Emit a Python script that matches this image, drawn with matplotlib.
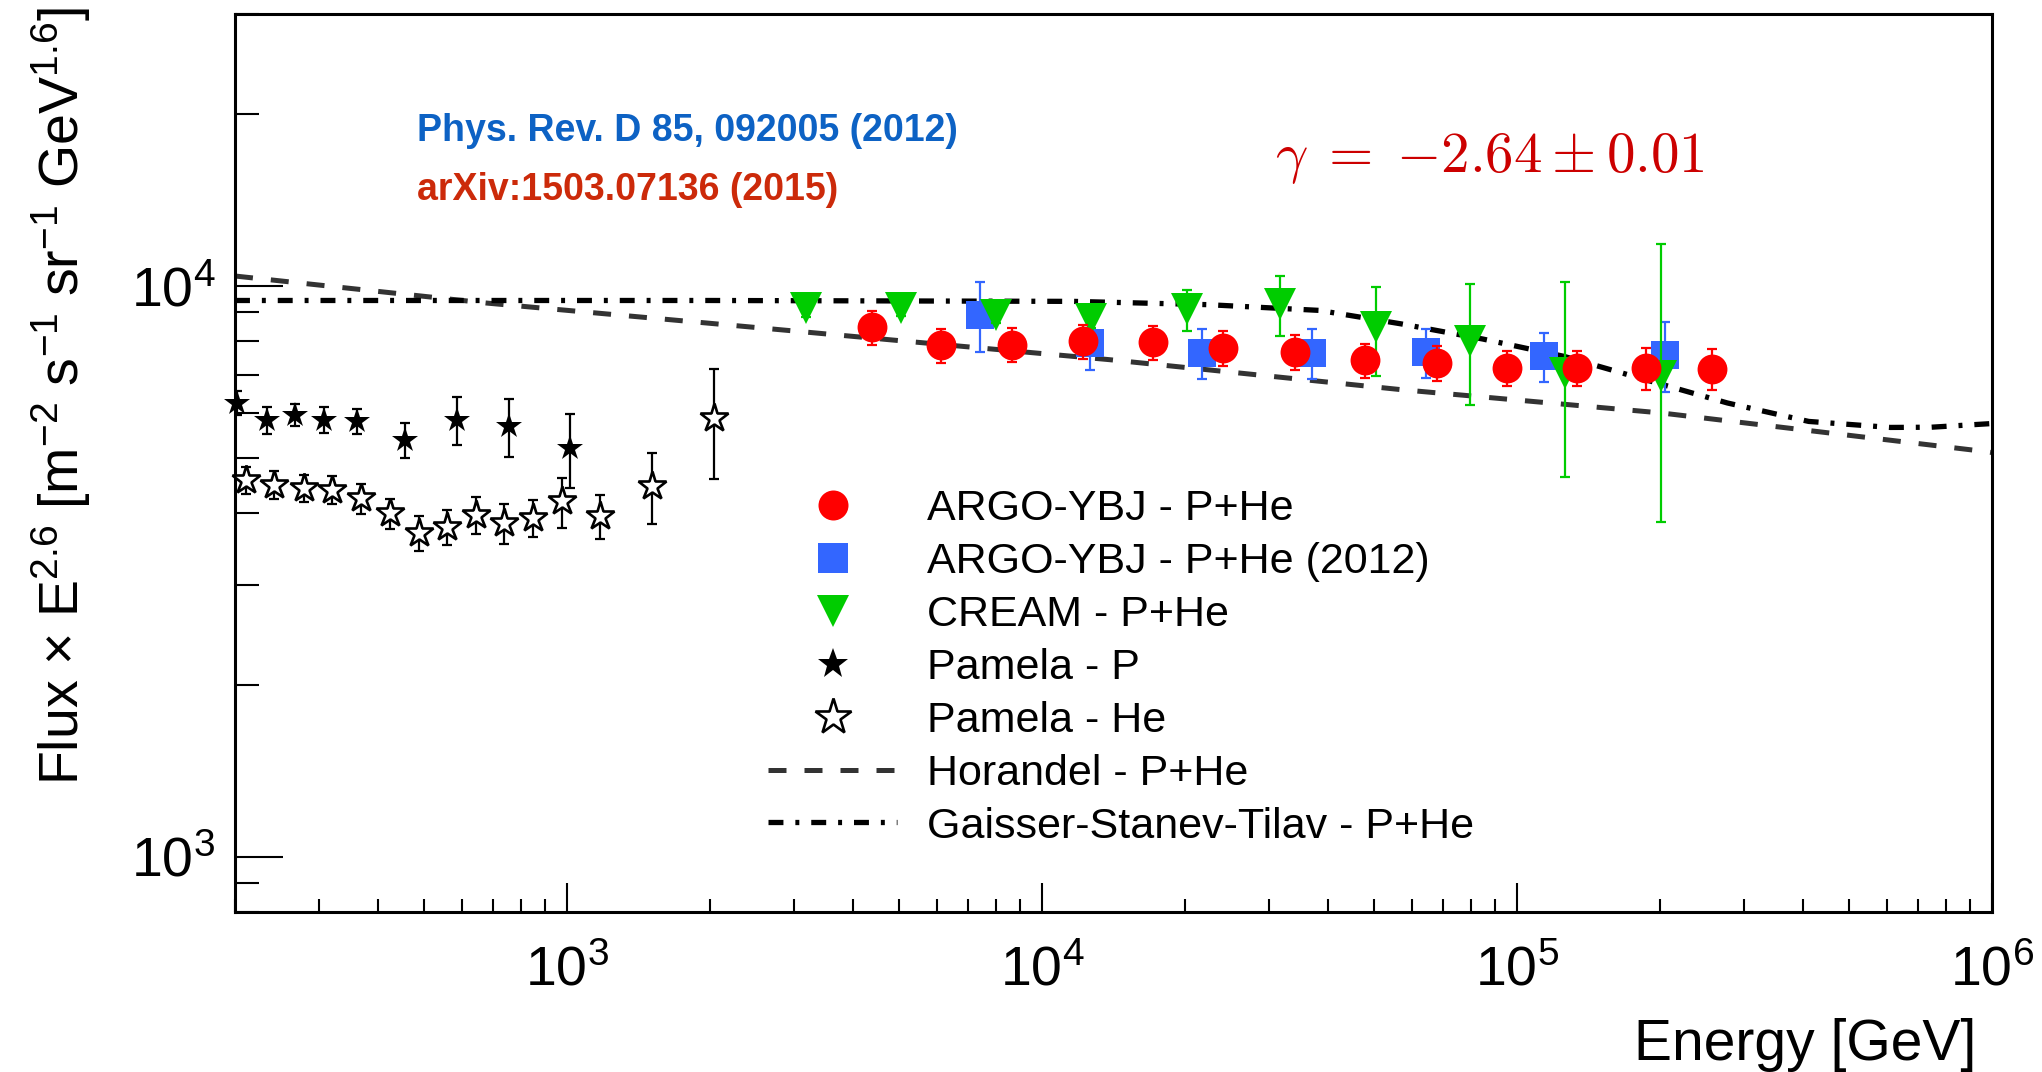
import matplotlib
matplotlib.use('Agg')
import matplotlib.pyplot as plt
from matplotlib import font_manager
from matplotlib.ticker import LogLocator, NullFormatter

plt.rcParams['font.family'] = ['Liberation Sans', 'DejaVu Sans']
plt.rcParams['mathtext.fontset'] = 'custom'
plt.rcParams['mathtext.rm'] = 'Liberation Sans'
plt.rcParams['mathtext.it'] = 'Liberation Sans:italic'
plt.rcParams['mathtext.bf'] = 'Liberation Sans:bold'

# ---------------- data ----------------
# ARGO-YBJ P+He (2015)
argo_E = [4390, 6140, 8630, 12190, 17160, 24080, 34040, 47890, 68000, 95300, 133900, 186700, 257000]
argo_F = [8475, 7875, 7900, 8000, 7970, 7790, 7670, 7410, 7335, 7195, 7190, 7190, 7170]
argo_err = [590, 550, 550, 560, 560, 545, 535, 520, 515, 505, 505, 600, 600]

# ARGO-YBJ P+He (2012)
argo12_E = [7410, 12590, 21760, 37060, 64380, 113900, 205300]
argo12_F = [8910, 7940, 7640, 7645, 7660, 7540, 7590]
argo12_err = [1250, 800, 765, 765, 760, 755, 1065]

# CREAM P+He
cream_E = [3190, 5060, 7990, 12680, 20170, 31740, 50470, 79650, 126500, 201300]
cream_F = [9140, 9160, 8920, 8750, 9125, 9310, 8475, 8025, 7045, 6960]
cream_err_lo = [300, 300, 300, 300, 770, 1115, 1525, 1845, 2415, 3100]
cream_err_hi = [300, 300, 300, 300, 735, 1095, 1495, 2065, 3110, 4900]

# Pamela P
pam_p_E = [202, 234, 268, 308, 362, 455, 587, 754, 1016]
pam_p_F = [6240, 5830, 5950, 5830, 5800, 5380, 5830, 5680, 5205]
pam_p_err = [300, 320, 270, 300, 300, 375, 555, 660, 775]

# Pamela He
pam_he_E = [211, 242, 279, 320, 369, 424, 488, 559, 644, 738, 848, 976, 1172, 1509, 2035]
pam_he_F = [4580, 4490, 4430, 4400, 4250, 4000, 3690, 3790, 3975, 3845, 3925, 4195, 3950, 4470, 5875]
pam_he_err = [250, 245, 245, 245, 255, 240, 260, 265, 290, 305, 290, 420, 350, 640, 1285]

# Models
horandel_E = [200, 675, 2270, 5240, 13870, 57000, 201800, 964000, 1000000]
horandel_F = [10420, 9345, 8527, 8000, 7434, 6587, 5994, 5133, 5110]

gst_E = [200, 2000, 11660, 22340, 38320, 57000, 84720, 125600, 186600, 277300, 411200, 611000, 744500, 964000, 1000000]
gst_F = [9440, 9440, 9406, 9282, 9070, 8590, 8080, 7534, 6855, 6242, 5794, 5655, 5660, 5734, 5745]

labels = ['ARGO-YBJ - P+He', 'ARGO-YBJ - P+He (2012)', 'CREAM - P+He', 'Pamela - P',
          'Pamela - He', 'Horandel - P+He', 'Gaisser-Stanev-Tilav - P+He']

RED = '#ff0000'
BLUE = '#3366ff'
GREEN = '#00cc00'

# ---------------- figure ----------------
W, H = 2042, 1072
fig = plt.figure(figsize=(W / 100, H / 100), dpi=100)
ax = fig.add_axes([235 / W, 1 - 912 / H, (1992 - 235) / W, (912 - 14) / H])
ax.set_xscale('log')
ax.set_yscale('log')
ax.set_xlim(200, 1e6)
ax.set_ylim(800, 3e4)

# model curves
h_hor, = ax.plot(horandel_E, horandel_F, color='#333333', lw=3.6,
                 ls=(0, (3.6, 3.6)), label=labels[5], zorder=2)
h_gst, = ax.plot(gst_E, gst_F, color='black', lw=3.8,
                 ls=(0, (2.83, 2.26, 0.75, 2.26)), label=labels[6], zorder=2)

ebkw = dict(fmt='none', elinewidth=1.6, capsize=3.6, capthick=1.6)

# Pamela
ax.errorbar(pam_p_E, pam_p_F, yerr=pam_p_err, ecolor='black', zorder=3, **ebkw)
h_pp, = ax.plot(pam_p_E, pam_p_F, ls='none', marker='*', ms=19, color='black',
                mew=0, label=labels[3], zorder=4, clip_on=False)
ax.errorbar(pam_he_E, pam_he_F, yerr=pam_he_err, ecolor='black', zorder=3, **ebkw)
h_phe, = ax.plot(pam_he_E, pam_he_F, ls='none', marker='*', ms=21, mfc='white',
                 mec='black', mew=1.9, label=labels[4], zorder=4, clip_on=False)

# ARGO 2012
ax.errorbar(argo12_E, argo12_F, yerr=argo12_err, ecolor=BLUE, zorder=5, **ebkw)
h_a12, = ax.plot(argo12_E, argo12_F, ls='none', marker='s', ms=20, color=BLUE,
                 mew=0, label=labels[1], zorder=6)

# CREAM
ax.errorbar(cream_E, cream_F, yerr=[cream_err_lo, cream_err_hi], ecolor=GREEN,
            zorder=7, **ebkw)
h_cr, = ax.plot(cream_E, cream_F, ls='none', marker='v', ms=22.5, color=GREEN,
                mew=0, label=labels[2], zorder=8)

# ARGO 2015
ax.errorbar(argo_E, argo_F, yerr=argo_err, ecolor=RED, zorder=9, **ebkw)
h_ar, = ax.plot(argo_E, argo_F, ls='none', marker='o', ms=21.5, color=RED,
                mew=0, label=labels[0], zorder=10)

# ---------------- axes style ----------------
for s in ax.spines.values():
    s.set_linewidth(2.2)
ax.xaxis.set_major_locator(LogLocator(base=10))
ax.xaxis.set_minor_locator(LogLocator(base=10, subs=range(2, 10)))
ax.yaxis.set_major_locator(LogLocator(base=10))
ax.yaxis.set_minor_locator(LogLocator(base=10, subs=range(2, 10)))
ax.xaxis.set_minor_formatter(NullFormatter())
ax.yaxis.set_minor_formatter(NullFormatter())
ax.tick_params(axis='both', which='both', direction='in', top=False, right=False,
               width=1.5, labelsize=40)
ax.tick_params(axis='x', which='major', length=21, pad=24)
ax.tick_params(axis='x', which='minor', length=9.5)
ax.tick_params(axis='y', which='major', length=34.5, pad=14)
ax.tick_params(axis='y', which='minor', length=17)

# axis titles
fig.text(61 / W, 1 - 7 / H,
         r'Flux × E$^{2.6}$ [m$^{-2}$ s$^{-1}$ sr$^{-1}$ GeV$^{1.6}$]',
         rotation=90, ha='center', va='top', fontsize=40)
fig.text(1976 / W, 1 - 1060 / H, 'Energy [GeV]', ha='right', va='baseline', fontsize=41)

# legend
leg = ax.legend(handles=[h_ar, h_a12, h_cr, h_pp, h_phe, h_hor, h_gst],
                loc='upper left', bbox_to_anchor=(768 / W, 1 - 489 / H),
                bbox_transform=fig.transFigure, frameon=False, fontsize=31,
                handlelength=3.0, handletextpad=0.69, labelspacing=0.3,
                borderpad=0, borderaxespad=0, numpoints=1)
for hnd, ms in zip(leg.legend_handles[:5], [21.6, 21, 23.5, 22.7, 27]):
    hnd.set_markersize(ms)

# annotations
names = {f.name for f in font_manager.fontManager.ttflist}
if 'Liberation Sans Narrow' in names:
    cond_family, cond_size = 'Liberation Sans Narrow', 32
else:
    cond_family, cond_size = 'Liberation Sans', 27
fig.text(417 / W, 1 - 140.6 / H, 'Phys. Rev. D 85, 092005 (2012)', color='#0d62c4',
         fontsize=cond_size, fontweight='bold', family=cond_family, va='baseline')
fig.text(417 / W, 1 - 200.5 / H, 'arXiv:1503.07136 (2015)', color='#cc2a0a',
         fontsize=cond_size, fontweight='bold', family=cond_family, va='baseline')
fig.text(1275 / W, 1 - 171.7 / H, r'$\gamma\;=\;{-}2.64 \pm 0.01$', color='#cc0000',
         fontsize=41, math_fontfamily='cm', va='baseline')

fig.savefig('out.png', dpi=100)
